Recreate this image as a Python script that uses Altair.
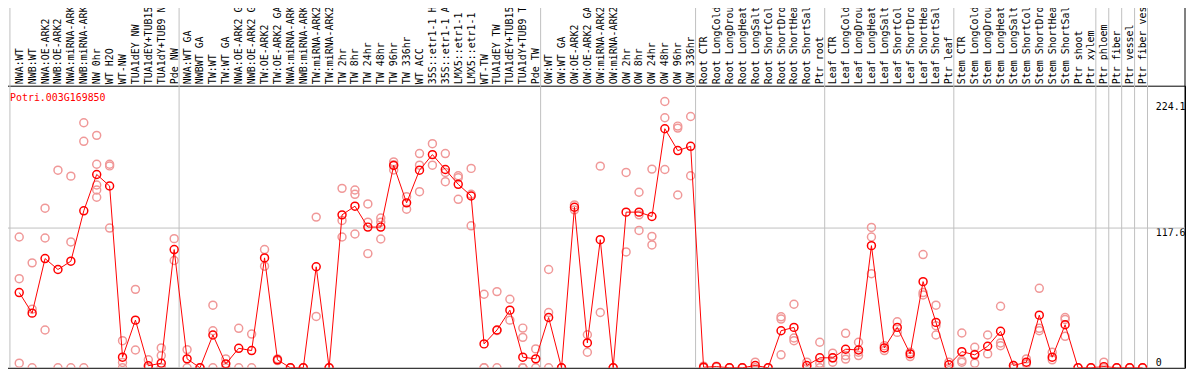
import json
import altair as alt
import pandas as pd

gene_id = "Potri.003G169850"

labels = [
    "NWA:WT", "NWB:WT", "NWA:OE-ARK2", "NWB:OE-ARK2", "NWA:miRNA-ARK2", "NWB:miRNA-ARK2",
    "NW 0hr", "WT H2O", "WT-NW", "TUA1dEY NW", "TUA1dEY+TUB15 NW", "TUA1dY+TUB9 NW", "Pde NW",
    "NWA:WT GA", "NWBWT GA", "TW:WT", "TW:WT GA", "NWA:OE-ARK2 GA", "NWB:OE-ARK2 GA",
    "TW:OE-ARK2", "TW:OE-ARK2 GA", "NWA:miRNA-ARK2", "NWB:miRNA-ARK2", "TW:miRNA-ARK2",
    "TW:miRNA-ARK2", "TW 2hr", "TW 8hr", "TW 24hr", "TW 48hr", "TW 96hr", "TW 336hr", "WT ACC",
    "35S::etr1-1 H2O", "35S::etr1-1 ACC", "LMX5::etr1-1 H2O", "LMX5::etr1-1 ACC", "WT-TW",
    "TUA1dEY TW", "TUA1dEY+TUB15 TW", "TUA1dY+TUB9 TW", "Pde TW",
    "OW:WT", "OW:WT GA", "OW:OE-ARK2", "OW:OE-ARK2 GA", "OW:miRNA-ARK2", "OW:miRNA-ARK2",
    "OW 2hr", "OW 8hr", "OW 24hr", "OW 48hr", "OW 96hr", "OW 336hr",
    "Root CTR", "Root LongCold", "Root LongDrought", "Root LongHeat", "Root LongSalt",
    "Root ShortCold", "Root ShortDrought", "Root ShortHeat", "Root ShortSalt", "Ptr root",
    "Leaf CTR", "Leaf LongCold", "Leaf LongDrought", "Leaf LongHeat", "Leaf LongSalt",
    "Leaf ShortCold", "Leaf ShortDrought", "Leaf ShortHeat", "Leaf ShortSalt", "Ptr leaf",
    "Stem CTR", "Stem LongCold", "Stem LongDrought", "Stem LongHeat", "Stem LongSalt",
    "Stem ShortCold", "Stem ShortDrought", "Stem ShortHeat", "Stem ShortSalt", "Ptr shoot",
    "Ptr xylem", "Ptr phloem", "Ptr fiber", "Ptr vessel", "Ptr fiber vessel",
]

means = [
    63.3, 46.0, 91.9, 82.7, 89.7, 132.1, 162.7, 153.0, 8.9, 40.1,
    1.7, 3.9, 99.5, 7.5, 0.0, 27.6, 3.3, 16.4, 14.5, 92.5,
    6.7, 0.0, 0.0, 85.0, 0.0, 128.7, 136.0, 118.4, 118.4, 170.3,
    138.8, 166.3, 179.4, 166.9, 154.4, 144.6, 20.1, 31.8, 48.5, 8.9,
    7.5, 42.3, 0.0, 135.1, 20.9, 107.8, 0.0, 131.0, 131.0, 127.3,
    201.2, 182.8, 186.4, 0.5, 1.0, 0.0, 0.0, 1.9, 0.0, 31.2,
    34.0, 1.9, 8.4, 8.4, 15.6, 15.0, 102.8, 16.7, 34.0, 11.7,
    72.5, 38.2, 2.5, 13.6, 10.9, 18.1, 30.7, 1.9, 4.7, 44.3,
    8.9, 36.2, 0.0, 0.0, 1.0, 0.0, 0.0, 0.0,
]

replicates = [
    [110.1, 75.0, 3.9], [88.3, 49.3, 0], [134.3, 109.2, 31.8], [166.3, 0],
    [161.3, 105.9, 0], [206.2, 190.6, 0], [195.6, 171.3, 153.8, 149.6, 143.5],
    [171.3, 169.9, 117.6], [22.8, 4.5, 0], [66.0, 15.0],
    [6.7, 0], [16.7, 10.3, 0, 0], [108.7, 90.3], [15.3, 0], [0, 0],
    [52.7, 31.2, 0], [7.5, 0], [33.2, 0], [28.4, 0], [99.5, 85.5],
    [7.5, 6.0], [0, 0], [0, 0], [126.8, 43.2], [0, 0],
    [151.0, 124.0, 110.1], [149.6, 146.0, 112.6], [137.9, 122.6, 96.1],
    [126.0, 122.6, 108.4], [173.3, 171.0, 166.5],
    [144.0, 133.5], [180.3, 170.5, 148.2], [188.6, 170.5], [180.3, 164.4, 156.6],
    [161.6, 159.9, 141.8], [167.8, 146.0, 119.5], [61.9, 0, 0], [64.1, 31.3, 0],
    [57.7, 40.1], [33.4, 25.6, 0, 0, 0],
    [15.9, 0], [82.7, 46.5, 0], [0, 0], [137.1, 132.9], [27.8, 13.1],
    [169.7, 46.5], [0, 0], [164.4, 97.5], [147.7, 128.7, 115.6], [167.2, 110.6, 103.4],
    [224.1, 210.4, 166.9], [203.4, 201.7, 145.4], [211.5, 161.6], [1.4, 0], [1.4, 0.5],
    [0, 0], [0, 0], [4.7, 0], [0, 0], [42.9, 41.0, 10.9],
    [53.5, 25.1, 22.8], [4.7, 0], [21.5, 3.9, 0], [12.3, 4.7, 8.2], [29.0, 10.3, 7.3],
    [21.5, 13.1, 10.3], [118.1, 110.1, 79.2], [18.6, 14.5], [38.7, 29.8], [13.1, 9.4],
    [95.3, 63.3, 61.3], [52.7, 35.4, 27.6], [4.7, 0], [29.3, 6.1, 4.7], [17.3, 3.9, 11.5],
    [27.6, 11.7], [51.8, 20.9, 18.6], [1.9, 0], [7.5, 3.3], [66.9, 33.2, 31.2],
    [13.1, 6.7], [42.3, 40.7, 26.5], [0, 0], [0, 0], [4.7, 0],
    [0, 0], [0, 0], [0, 0],
]

# group separators (sample index positions)
separators = [-0.72, 12.38, 40.38, 52.38, 62.38, 72.38, 83.38, 84.38, 85.38, 86.38, 87.38]
gridlines = [117.6]
axis_values = [0, 117.6, 224.1]

x_domain = [-1.4077, 90.2846]
y_domain = [0, 237.4]

W, H = 1192, 284
MONO = "DejaVu Sans Mono"

df_mean = pd.DataFrame({"idx": list(range(len(means))), "val": means, "label": labels})
df_rep = pd.DataFrame(
    [{"idx": i, "val": v} for i, reps in enumerate(replicates) for v in reps]
)
df_sep = pd.DataFrame({"idx": separators})
df_edge = pd.DataFrame({"idx": x_domain})
df_grid = pd.DataFrame({"val": gridlines})
df_gene = pd.DataFrame({"gene": [gene_id]})

xscale = alt.Scale(domain=x_domain, nice=False, zero=False)
yscale = alt.Scale(domain=y_domain, nice=False, zero=False)

xaxis = alt.Axis(
    orient="top", values=list(range(len(labels))),
    labelExpr=json.dumps(labels) + "[datum.value]",
    labelAngle=270, labelAlign="left", labelBaseline="middle", labelPadding=2,
    ticks=False, grid=False, domain=False, labelFont=MONO, labelFontSize=10,
    labelColor="black", labelOverlap=False, labelBound=False, labelFlush=False,
    labelLimit=400, title=None,
)
yaxis = alt.Axis(
    orient="right", values=axis_values, format=".1~f", offset=-30,
    ticks=False, grid=False, domain=False, labelPadding=0,
    labelFont=MONO, labelFontSize=10, labelColor="black",
    labelAlign="left",
    labelBaseline=alt.condition("datum.value == 0", alt.value("bottom"), alt.value("top")),
    labelOverlap=False, labelBound=False, labelFlush=False, title=None,
)

X = alt.X("idx:Q", scale=xscale, axis=xaxis)
Y = alt.Y("val:Q", scale=yscale, axis=yaxis)

sep_layer = alt.Chart(df_sep).mark_rule(color="#c0c0c0", strokeWidth=1).encode(
    x=X, y=alt.value(-85), y2=alt.value(H)
)
edge_layer = alt.Chart(df_edge).mark_rule(color="black", strokeWidth=1).encode(
    x=X, y=alt.value(-85), y2=alt.value(H)
)
grid_layer = alt.Chart(df_grid).mark_rule(color="#c0c0c0", strokeWidth=1).encode(y=Y)

rep_layer = alt.Chart(df_rep).mark_point(
    shape="circle", size=64, filled=False, color="#f09898", strokeWidth=1.5,
    opacity=1, clip=True
).encode(x=X, y=Y)

line_layer = alt.Chart(df_mean).mark_line(color="#ff0000", strokeWidth=1, clip=True).encode(
    x=X, y=Y
)
mean_layer = alt.Chart(df_mean).mark_point(
    shape="circle", size=64, filled=False, color="#ff0000", strokeWidth=1.5,
    opacity=1, clip=True
).encode(x=X, y=Y)

gene_layer = alt.Chart(df_gene).mark_text(
    align="left", baseline="alphabetic", font=MONO, fontSize=10, color="#ff0000"
).encode(x=alt.value(9), y=alt.value(15), text="gene:N")

chart = alt.layer(
    sep_layer, edge_layer, grid_layer, rep_layer, line_layer, mean_layer, gene_layer
).properties(
    width=W, height=H,
    autosize=alt.AutoSizeParams(type="none"),
    padding={"left": -7, "top": 77, "right": 1, "bottom": 1},
    background="white",
).configure_view(stroke="black", strokeWidth=1)

chart.save("out.html", embed_options={"renderer": "svg", "actions": False})
